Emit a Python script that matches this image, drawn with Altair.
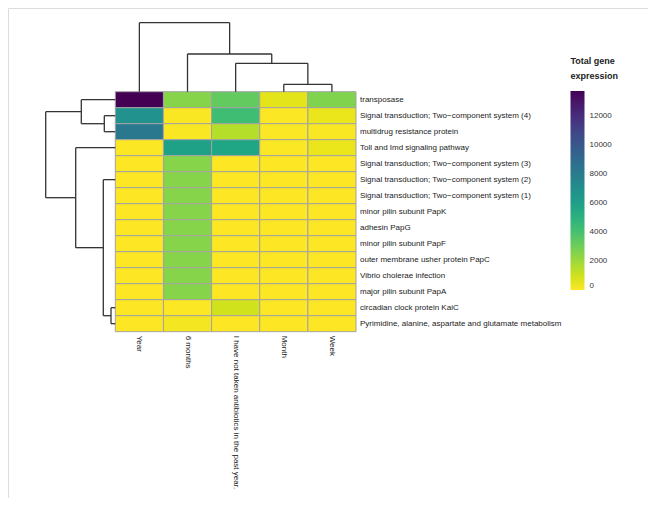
import altair as alt
import pandas as pd

# ---------------- data ----------------
col_labels = ["Year", "6 months", "I have not taken antibiotics in the past year.", "Month", "Week"]
row_labels = [
    "transposase",
    "Signal transduction; Two\u2212component system (4)",
    "multidrug resistance protein",
    "Toll and Imd signaling pathway",
    "Signal transduction; Two\u2212component system (3)",
    "Signal transduction; Two\u2212component system (2)",
    "Signal transduction; Two\u2212component system (1)",
    "minor pilin subunit PapK",
    "adhesin PapG",
    "minor pilin subunit PapF",
    "outer membrane usher protein PapC",
    "Vibrio cholerae infection",
    "major pilin subunit PapA",
    "circadian clock protein KaiC",
    "Pyrimidine, alanine, aspartate and glutamate metabolism",
]
year       = [13700, 6800, 8200,   50,    0,    0,    0,    0,    0,    0,    0,    0,    0,   0,   0]
six_months = [ 2500,  100,  100, 5900, 2500, 2500, 2500, 2500, 2500, 2500, 2500, 2500, 2500,  50, 200]
not_taken  = [ 3300, 4250, 1500, 5600,    0,    0,    0,    0,    0,    0,    0,    0,    0, 950,   0]
month      = [  550,   50,   50,   50,    0,    0,    0,    0,    0,    0,    0,    0,    0,   0,   0]
week       = [ 2600,  400,  100,  400,    0,    0,    0,    0,    0,    0,    0,    0,    0,   0,   0]

legend_ticks = [0, 2000, 4000, 6000, 8000, 10000, 12000]
color_max = 13700

# hierarchical-clustering linkages (child a, child b, merge height), node ids as in scipy
col_links = [(3, 4, 7.4), (2, 5, 28.4), (1, 6, 37.7), (0, 7, 69.0)]
row_links = [(11, 12, 0), (10, 15, 0), (9, 16, 0), (8, 17, 0), (7, 18, 0), (6, 19, 0),
             (5, 20, 0), (4, 21, 0), (13, 14, 4.3), (1, 2, 11.0), (22, 23, 12.0),
             (0, 24, 34.0), (3, 25, 39.6), (26, 27, 69.6)]

# ---------------- tables ----------------
series = [year, six_months, not_taken, month, week]
cells = []
for ci, vals in enumerate(series):
    for ri, v in enumerate(vals):
        cells.append(dict(col=col_labels[ci], row=row_labels[ri], value=v,
                          c0=ci, c1=ci + 1, r0=ri, r1=ri + 1))
heat_df = pd.DataFrame(cells)


def dendro_segments(links, n):
    pos = {i: i + 0.5 for i in range(n)}
    hgt = {i: 0.0 for i in range(n)}
    segs = []
    for k, (a, b, h) in enumerate(links):
        node = n + k
        pos[node] = (pos[a] + pos[b]) / 2
        hgt[node] = h
        if h > 0:
            segs.append(dict(p1=pos[a], p2=pos[a], h1=hgt[a], h2=h))
            segs.append(dict(p1=pos[b], p2=pos[b], h1=hgt[b], h2=h))
            segs.append(dict(p1=pos[a], p2=pos[b], h1=h, h2=h))
    return pd.DataFrame(segs)


col_tree = dendro_segments(col_links, len(col_labels))
row_tree = dendro_segments(row_links, len(row_labels))

row_lab_df = pd.DataFrame(dict(label=row_labels, r=[i + 0.5 for i in range(len(row_labels))],
                               xr=[len(col_labels)] * len(row_labels)))
col_lab_df = pd.DataFrame(dict(label=col_labels, c=[i + 0.5 for i in range(len(col_labels))],
                               yb=[len(row_labels)] * len(col_labels)))

# ---------------- scales (layout) ----------------
HX = [107.3, 348.0]   # heatmap horizontal extent (px)
HY = [83.7, 323.7]    # heatmap vertical extent (px)
X_HEAT = alt.Scale(domain=[0, len(col_labels)], range=HX, nice=False, zero=False)
Y_HEAT = alt.Scale(domain=[0, len(row_labels)], range=HY, nice=False, zero=False)

FONT = "Liberation Sans"
LINE = "#333333"

heat = alt.Chart(heat_df).mark_rect(stroke="#a3a3a3", strokeWidth=1).encode(
    x=alt.X("c0:Q", scale=X_HEAT, axis=None),
    x2="c1:Q",
    y=alt.Y("r0:Q", scale=Y_HEAT, axis=None),
    y2="r1:Q",
    color=alt.Color(
        "value:Q",
        scale=alt.Scale(scheme="viridis", reverse=True, domain=[0, color_max], nice=False),
        legend=alt.Legend(
            title=["Total gene", "expression"], orient="none", direction="vertical",
            legendX=562.5, legendY=49, gradientLength=199, gradientThickness=14,
            values=legend_ticks, format="d", labelOverlap=False, labelFont=FONT, labelFontSize=8,
            labelColor="#333", labelOffset=5, titleFont=FONT, titleFontSize=9,
            titleFontWeight="bold", titleColor="#222", titleLineHeight=15,
            titlePadding=10, gradientStrokeWidth=0, tickCount=7,
        ),
    ),
)

col_dendro = alt.Chart(col_tree).mark_rule(color=LINE, strokeWidth=1.3).encode(
    x=alt.X("p1:Q", scale=X_HEAT, axis=None),
    x2="p2:Q",
    y=alt.Y("h1:Q", scale=alt.Scale(domain=[0, 69.0], range=[HY[0], 14.7], nice=False, zero=False), axis=None),
    y2="h2:Q",
)

row_dendro = alt.Chart(row_tree).mark_rule(color=LINE, strokeWidth=1.3).encode(
    x=alt.X("h1:Q", scale=alt.Scale(domain=[0, 69.6], range=[HX[0], 37.7], nice=False, zero=False), axis=None),
    x2="h2:Q",
    y=alt.Y("p1:Q", scale=Y_HEAT, axis=None),
    y2="p2:Q",
)

row_text = alt.Chart(row_lab_df).mark_text(
    align="left", baseline="middle", dx=4, font=FONT, fontSize=8, color="#222"
).encode(
    x=alt.X("xr:Q", scale=X_HEAT, axis=None),
    y=alt.Y("r:Q", scale=Y_HEAT, axis=None),
    text="label:N",
)

col_text = alt.Chart(col_lab_df).mark_text(
    align="left", baseline="middle", angle=90, dx=4, font=FONT, fontSize=8, color="#222"
).encode(
    x=alt.X("c:Q", scale=X_HEAT, axis=None),
    y=alt.Y("yb:Q", scale=Y_HEAT, axis=None),
    text="label:N",
)

chart = (
    alt.layer(heat, col_dendro, row_dendro, row_text, col_text)
    .resolve_scale(x="independent", y="independent")
    .properties(width=640, height=490, autosize="none", padding=0)
    .configure_view(strokeWidth=0, stroke="transparent", fill="transparent")
    .configure(background="transparent")
)

chart.save("out.html", embed_options={"renderer": "svg", "actions": False})
